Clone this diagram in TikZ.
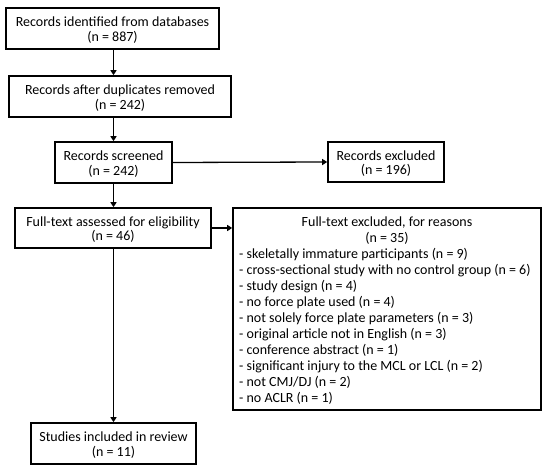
\documentclass[tikz,border=0pt]{standalone}
\usepackage{fontspec}
\setmainfont{Carlito}
\usetikzlibrary{arrows.meta}
\newcommand{\topstr}{\rule{0pt}{15pt}}
\newcommand{\botstr}{\rule[-4pt]{0pt}{4pt}}
\newcommand{\hdstr}{\rule{0pt}{12pt}}
\begin{document}
\begin{tikzpicture}[x=1pt,y=1pt,
  box/.style={draw=black,line width=1.6pt,align=center,inner sep=0pt,
    font=\fontsize{14}{14.6}\selectfont},
  bigtxt/.style={inner sep=0pt,font=\fontsize{14}{16}\selectfont},
  conn/.style={line width=1.3pt,-{Triangle[width=6pt,length=5pt]}}]
\useasboundingbox (0,0) rectangle (550,-473);
\fill[white] (0,0) rectangle (550,-473);
\node[box,minimum width=213pt,minimum height=41pt] (b1) at (112.5,-28.5) {\topstr Records identified from databases\\(n = 887)\botstr};
\node[box,minimum width=222pt,minimum height=41pt] (b2) at (120,-96.5) {\topstr Records after duplicates removed\\(n = 242)\botstr};
\node[box,minimum width=117pt,minimum height=41pt] (b3) at (113.5,-162.5) {\topstr Records screened\\(n = 242)\botstr};
\node[box,minimum width=116pt,minimum height=40pt] (ex) at (386,-162) {\topstr Records excluded\\(n = 196)\botstr};
\node[box,minimum width=196pt,minimum height=40pt] (b4) at (113,-228) {\topstr Full-text assessed for eligibility\\(n = 46)\botstr};
\node[box,minimum width=308pt,minimum height=202pt] (big) at (387,-309) {};
\node[bigtxt,align=center,anchor=north] (bighead) at (387,-214) {\hdstr Full-text excluded, for reasons\\(n = 35)};
\node[bigtxt,align=left,anchor=north west] (biglist) at (239,-246) {\hdstr - skeletally immature participants (n = 9)\\
- cross-sectional study with no control group (n = 6)\\
- study design (n = 4)\\
- no force plate used (n = 4)\\
- not solely force plate parameters (n = 3)\\
- original article not in English (n = 3)\\
- conference abstract (n = 1)\\
- significant injury to the MCL or LCL (n = 2)\\
- not CMJ/DJ (n = 2)\\
- no ACLR (n = 1)};
\node[box,minimum width=165pt,minimum height=41pt] (st) at (113.5,-443.5) {\topstr Studies included in review\\(n = 11)\botstr};
\draw[conn] (b3.north |- b1.south) -- (b3.north |- b2.north);
\draw[conn] (b3.north |- b2.south) -- (b3.north);
\draw[conn] (b3.south) -- (b3.south |- b4.north);
\draw[conn] (b3.east) -- (ex.west);
\draw[conn] (b4.east) -- (b4.east -| big.west);
\draw[conn] (b3.south |- b4.south) -- (b3.south |- st.north);
\end{tikzpicture}
\end{document}
